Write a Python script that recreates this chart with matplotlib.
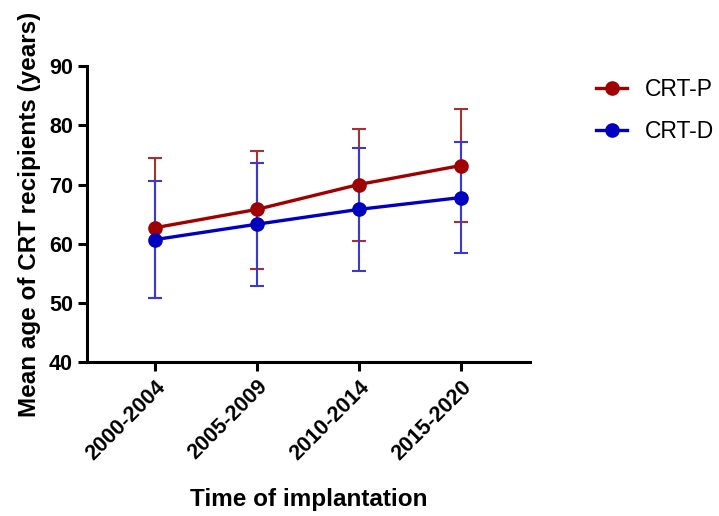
import matplotlib
matplotlib.use("Agg")
import matplotlib.pyplot as plt
import numpy as np

periods = ["2000-2004", "2005-2009", "2010-2014", "2015-2020"]

crt_p_mean = [62.7, 65.8, 70.0, 73.2]
crt_p_low = [50.9, 55.8, 60.4, 63.6]
crt_p_high = [74.4, 75.7, 79.4, 82.7]

crt_d_mean = [60.7, 63.3, 65.8, 67.8]
crt_d_low = [50.9, 52.9, 55.4, 58.5]
crt_d_high = [70.6, 73.6, 76.1, 77.2]

plt.rcParams["font.family"] = ["Liberation Sans", "DejaVu Sans"]

fig = plt.figure(figsize=(7.19, 5.16), dpi=100)
ax = fig.add_axes([0.121, 0.298, 0.616, 0.574])

x = np.arange(len(periods))

series = [
    ("CRT-P", crt_p_mean, crt_p_low, crt_p_high, "#A00000", "#A83030"),
    ("CRT-D", crt_d_mean, crt_d_low, crt_d_high, "#0000C0", "#3A3AD0"),
]

handles = []
for name, mean, low, high, col, ecol in series:
    mean = np.array(mean)
    yerr = [mean - np.array(low), np.array(high) - mean]
    ax.errorbar(x, mean, yerr=yerr, fmt="none", ecolor=ecol, elinewidth=1.5,
                capsize=4.8, capthick=1.5, zorder=2)
    h, = ax.plot(x, mean, color=col, lw=2.4, marker="o", markersize=9.5,
                 zorder=3, label=name)
    handles.append(h)

ax.set_xlim(-0.667, 3.68)
ax.set_ylim(40, 90)
ax.set_yticks([40, 50, 60, 70, 80, 90])
ax.set_xticks(x)
ax.set_xticklabels(periods, rotation=45, ha="right", rotation_mode="anchor",
                   fontsize=15.5, fontweight="bold")
for lab in ax.get_yticklabels():
    lab.set_fontsize(15.5)
    lab.set_fontweight("bold")

for s in ["top", "right"]:
    ax.spines[s].set_visible(False)
for s in ["left", "bottom"]:
    ax.spines[s].set_linewidth(2.2)
ax.tick_params(axis="both", direction="out", length=6.5, width=2.2, pad=3.6)

ax.set_xlabel("Time of implantation", fontsize=17.5, fontweight="bold", labelpad=17)
ax.set_ylabel("Mean age of CRT recipients (years)", fontsize=17.5, fontweight="bold",
              labelpad=6)

fig.legend(handles=handles, loc="upper left", bbox_to_anchor=(0.816, 0.866),
           frameon=False, fontsize=16.5, handlelength=1.38, handletextpad=0.75,
           labelspacing=0.8, borderaxespad=0)

fig.savefig("out.png", dpi=100)
